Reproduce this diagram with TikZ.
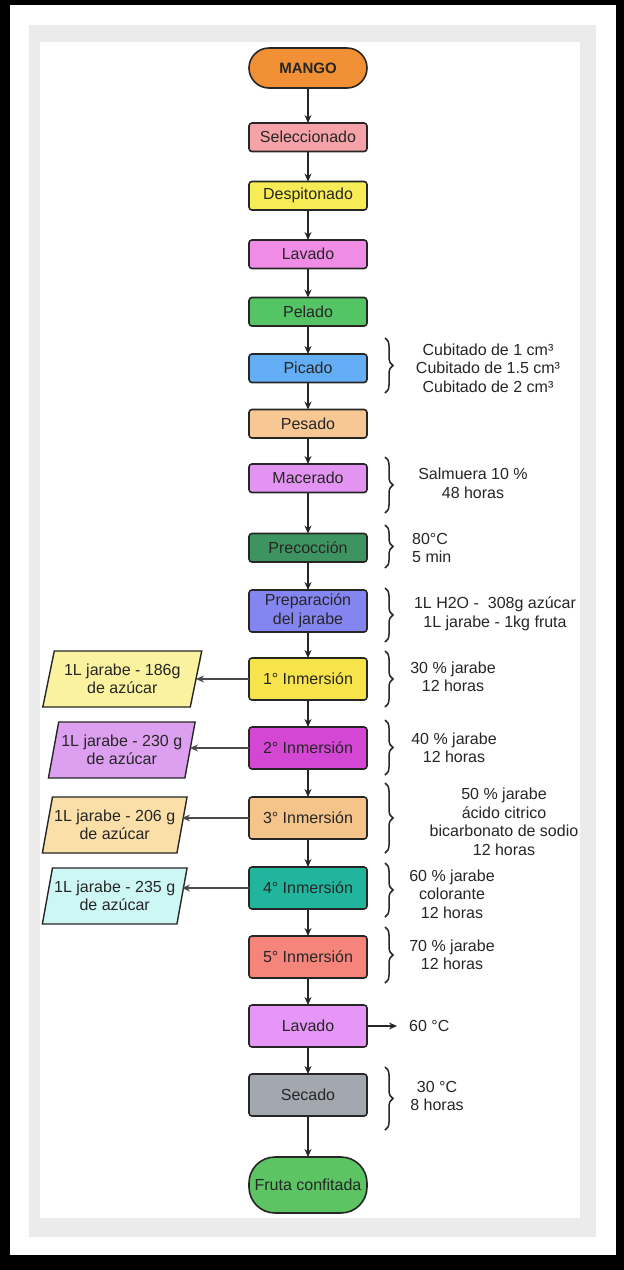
\documentclass[tikz,border=0pt]{standalone}
\usepackage{fontspec}
\setmainfont{Liberation Sans}
\usetikzlibrary{shapes, arrows.meta, positioning, calc, decorations.pathreplacing}
\definecolor{mgdark}{HTML}{262626}
\definecolor{mgside}{HTML}{4A4A4A}
\definecolor{mgframe}{HTML}{EBEBEB}
\definecolor{cmango}{HTML}{F29035}
\definecolor{csel}{HTML}{F5A3A8}
\definecolor{cdes}{HTML}{F7EC55}
\definecolor{clav}{HTML}{F08CE6}
\definecolor{cpel}{HTML}{55C464}
\definecolor{cpic}{HTML}{63AEF5}
\definecolor{cpes}{HTML}{F7C794}
\definecolor{cmac}{HTML}{E394F2}
\definecolor{cpre}{HTML}{3E9460}
\definecolor{cjar}{HTML}{8585F2}
\definecolor{cinmA}{HTML}{F7E34A}
\definecolor{cinmB}{HTML}{D447D4}
\definecolor{cinmC}{HTML}{F5C48A}
\definecolor{cinmD}{HTML}{21B59E}
\definecolor{cinmE}{HTML}{F5857A}
\definecolor{clavB}{HTML}{E696F7}
\definecolor{csec}{HTML}{A3A8B0}
\definecolor{cfru}{HTML}{5CC463}
\definecolor{cparA}{HTML}{FAF29E}
\definecolor{cparB}{HTML}{DDA0F0}
\definecolor{cparC}{HTML}{FADFA8}
\definecolor{cparD}{HTML}{CDF7F5}

\begin{document}
\begin{tikzpicture}[x=1pt, y=-1pt,
      box/.style={rectangle, rounded corners=3pt, draw=mgdark, line width=1.6pt, minimum width=118pt, minimum height=28.5pt, inner sep=0pt, outer sep=0pt, align=center, text=mgdark, font=\fontsize{16}{18.5}\selectfont},
      tall/.style={box, minimum height=42pt},
      term/.style={box, rounded corners=20pt},
      para/.style={trapezium, trapezium left angle=72, trapezium right angle=108, trapezium stretches=true, draw=mgdark, line width=1.4pt, minimum height=56pt, inner sep=0pt, outer sep=0pt, align=center, text=mgdark, font=\fontsize{16}{18.5}\selectfont},
      note/.style={align=center, inner sep=0pt, text=mgdark, font=\fontsize{16}{18.5}\selectfont},
      arr/.style={-{Stealth[length=8pt,width=7pt]}, line width=1.3pt, draw=mgdark},
      side/.style={arr, draw=mgside},
      brc/.style={decorate, decoration={brace, amplitude=8pt}, line width=1.5pt, draw=mgdark}
    ]
      % frame
      \fill[black] (0,0) rectangle (624,1270);
      \fill[white] (10,5) rectangle (616,1255);
      \fill[mgframe] (29,25) rectangle (596,1237);
      \fill[white] (40,42) rectangle (580,1218);

      \node[term, fill=cmango, minimum height=40pt, font=\fontsize{15}{18}\selectfont\bfseries] (MAN) at (308,68) {MANGO};
      \node[box, fill=csel, below=35pt of MAN] (SEL) {Seleccionado};
      \node[box, fill=cdes, below=30pt of SEL] (DES) {Despitonado};
      \node[box, fill=clav, below=30pt of DES] (LAV) {Lavado};
      \node[box, fill=cpel, below=29pt of LAV] (PEL) {Pelado};
      \node[box, fill=cpic, below=28pt of PEL] (PIC) {Picado};
      \node[box, fill=cpes, below=27pt of PIC] (PES) {Pesado};
      \node[box, fill=cmac, below=26pt of PES] (MAC) {Macerado};
      \node[box, fill=cpre, below=41pt of MAC] (PRE) {Precocción};
      \node[tall, fill=cjar, below=28pt of PRE] (JAR) {Preparación\\del jarabe};
      \node[tall, fill=cinmA, below=26pt of JAR] (I1) {1° Inmersión};
      \node[tall, fill=cinmB, below=27pt of I1] (I2) {2° Inmersión};
      \node[tall, fill=cinmC, below=28pt of I2] (I3) {3° Inmersión};
      \node[tall, fill=cinmD, below=28pt of I3] (I4) {4° Inmersión};
      \node[tall, fill=cinmE, below=27pt of I4] (I5) {5° Inmersión};
      \node[tall, fill=clavB, below=27pt of I5] (LAV2) {Lavado};
      \node[tall, fill=csec, below=27pt of LAV2] (SEC) {Secado};
      \node[term, fill=cfru, minimum height=56pt, rounded corners=26pt, below=41pt of SEC] (FRU) {Fruta confitada};

      % main flow
      \foreach \a/\b in {MAN/SEL, SEL/DES, DES/LAV, LAV/PEL, PEL/PIC, PIC/PES, PES/MAC, MAC/PRE, PRE/JAR, JAR/I1, I1/I2, I2/I3, I3/I4, I4/I5, I5/LAV2, LAV2/SEC, SEC/FRU}
        \draw[arr] (\a.south) -- (\b.north);

      % syrup per immersion
      \node[para, fill=cparA, minimum width=159pt, left=53pt of I1] (P1) {1L jarabe - 186g\\de azúcar};
      \node[para, fill=cparB, minimum width=147pt, left=59pt of I2, yshift=-2pt] (P2) {1L jarabe - 230 g\\de azúcar};
      \node[para, fill=cparC, minimum width=145pt, left=67pt of I3, yshift=-7pt] (P3) {1L jarabe - 206 g\\de azúcar};
      \node[para, fill=cparD, minimum width=145pt, left=67pt of I4, yshift=-8pt] (P4) {1L jarabe - 235 g\\de azúcar};
      \foreach \i in {1,...,4}
        \draw[side] (I\i.west) -- (P\i.east |- I\i.west);

      % braces
      \foreach \n/\t/\b in {PIC/16/10.5, MAC/7/20.5, PRE/8.5/6, JAR/2/10, I1/7/7, I2/7/6, I3/14/14, I4/4/8, I5/9/5, SEC/7/14}
        \draw[brc] ([xshift=18pt, yshift=\t pt]\n.north east) -- ([xshift=18pt, yshift=-\b pt]\n.south east);

      % conditions
      \node[note] (NPIC) at ($(PIC)+(180,0)$) {Cubitado de 1 cm³\\Cubitado de 1.5 cm³\\Cubitado de 2 cm³};
      \node[note] (NMAC) at ($(MAC)+(165,5)$) {Salmuera 10 \%\\48 horas};
      \node[note, align=left, right=45pt of PRE] (NPRE) {80°C\\5 min};
      \node[note] (NJAR) at ($(JAR)+(187,3)$) {1L H2O - \ 308g azúcar\\1L jarabe - 1kg fruta};
      \node[note] (NI1) at ($(I1)+(145,-2)$) {30 \% jarabe\\12 horas};
      \node[note] (NI2) at ($(I2)+(146,0)$) {40 \% jarabe\\12 horas};
      \node[note] (NI3) at ($(I3)+(196,4)$) {50 \% jarabe\\ácido citrico\\bicarbonato de sodio\\12 horas};
      \node[note] (NI4) at ($(I4)+(144,6)$) {60 \% jarabe\\colorante\\12 horas};
      \node[note] (NI5) at ($(I5)+(144,-2)$) {70 \% jarabe\\12 horas};
      \node[note, right=42pt of LAV2] (NLAV) {60 °C};
      \draw[arr, shorten >=12pt] (LAV2.east) -- (NLAV.west);
      \node[note] (NSEC) at ($(SEC)+(129,1)$) {30 °C\\8 horas};
    \end{tikzpicture}
\end{document}
